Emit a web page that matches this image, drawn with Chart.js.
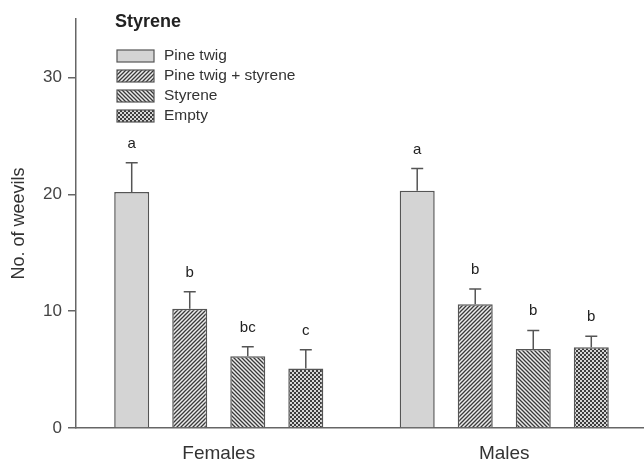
<!DOCTYPE html>
<html>
<head>
<meta charset="utf-8">
<script src="https://cdn.jsdelivr.net/npm/chart.js@4"></script>
<style>
  html, body { margin: 0; padding: 0; background: #fff; overflow: hidden; }
  #wrap { width: 647px; height: 461px; }
</style>
</head>
<body>
<div id="wrap"><canvas id="grafico"></canvas></div>
<script>
const categorias = ["Females", "Males"];
const series = ["Pine twig", "Pine twig + styrene", "Styrene", "Empty"];

const pineTwig = [20.2, 20.3];
const pineTwigStyrene = [10.2, 10.6];
const styrene = [6.15, 6.75];
const empty = [5.1, 6.9];

const errPineTwig = [2.5, 1.9];
const errPineTwigStyrene = [1.45, 1.3];
const errStyrene = [0.8, 1.6];
const errEmpty = [1.6, 0.95];

const letrasPineTwig = ["a", "a"];
const letrasPineTwigStyrene = ["b", "b"];
const letrasStyrene = ["bc", "b"];
const letrasEmpty = ["c", "b"];

const yTicks = [0, 10, 20, 30];

const FONT = "'Liberation Sans', Arial, sans-serif";

function rayado(dir) {
  const s = 4;
  const c = document.createElement("canvas");
  c.width = s; c.height = s;
  const g = c.getContext("2d");
  g.fillStyle = "#ececec";
  g.fillRect(0, 0, s, s);
  g.strokeStyle = "#3a3a3a";
  g.lineWidth = 1.3;
  g.beginPath();
  if (dir > 0) {
    g.moveTo(-1, s + 1); g.lineTo(s + 1, -1);
    g.moveTo(-1, 1); g.lineTo(1, -1);
    g.moveTo(s - 1, s + 1); g.lineTo(s + 1, s - 1);
  } else {
    g.moveTo(-1, -1); g.lineTo(s + 1, s + 1);
    g.moveTo(-1, s - 1); g.lineTo(1, s + 1);
    g.moveTo(s - 1, -1); g.lineTo(s + 1, 1);
  }
  g.stroke();
  return g.createPattern(c, "repeat");
}

function cuadros() {
  const c = document.createElement("canvas");
  c.width = 4; c.height = 4;
  const g = c.getContext("2d");
  g.fillStyle = "#3c3c3c";
  g.fillRect(0, 0, 4, 4);
  g.fillStyle = "#d6d6d6";
  g.fillRect(0, 0, 2, 2);
  g.fillRect(2, 2, 2, 2);
  return g.createPattern(c, "repeat");
}

const valores = [pineTwig, pineTwigStyrene, styrene, empty];
const errores = [errPineTwig, errPineTwigStyrene, errStyrene, errEmpty];
const letras = [letrasPineTwig, letrasPineTwigStyrene, letrasStyrene, letrasEmpty];
const rellenos = ["#d4d4d4", rayado(1), rayado(-1), cuadros()];

const extras = {
  id: "extras",
  afterDatasetsDraw(chart) {
    const ctx = chart.ctx;
    const y = chart.scales.y;
    ctx.save();
    chart.data.datasets.forEach((ds, i) => {
      const meta = chart.getDatasetMeta(i);
      meta.data.forEach((bar, j) => {
        const top = y.getPixelForValue(valores[i][j] + errores[i][j]);
        ctx.strokeStyle = "#555";
        ctx.lineWidth = 1.5;
        ctx.beginPath();
        ctx.moveTo(bar.x, bar.y);
        ctx.lineTo(bar.x, top);
        ctx.moveTo(bar.x - 6, top);
        ctx.lineTo(bar.x + 6, top);
        ctx.stroke();
        ctx.fillStyle = "#222";
        ctx.font = "15px " + FONT;
        ctx.textAlign = "center";
        ctx.textBaseline = "alphabetic";
        ctx.fillText(letras[i][j], bar.x, top - 15);
      });
    });
    ctx.restore();
  },
  afterDraw(chart) {
    const ctx = chart.ctx;
    ctx.save();
    ctx.fillStyle = "#222";
    ctx.font = "bold 18px " + FONT;
    ctx.textAlign = "left";
    ctx.textBaseline = "alphabetic";
    ctx.fillText("Styrene", 115, 27);
    ctx.font = "15.5px " + FONT;
    ctx.textBaseline = "middle";
    series.forEach((nombre, i) => {
      const yy = 56 + i * 20;
      ctx.fillStyle = rellenos[i];
      ctx.fillRect(117, yy - 6, 37, 12);
      ctx.strokeStyle = "#555";
      ctx.lineWidth = 1.2;
      ctx.strokeRect(117, yy - 6, 37, 12);
      ctx.fillStyle = "#333";
      ctx.fillText(nombre, 164, yy);
    });
    ctx.restore();
  }
};

const ctx = document.getElementById("grafico").getContext("2d");
new Chart(ctx, {
  type: "bar",
  data: {
    labels: categorias,
    datasets: series.map((nombre, i) => ({
      label: nombre,
      data: valores[i],
      backgroundColor: rellenos[i],
      borderColor: "#555",
      borderWidth: 1.5,
      borderSkipped: "bottom",
      categoryPercentage: 0.813,
      barPercentage: 0.603
    }))
  },
  options: {
    responsive: true,
    maintainAspectRatio: false,
    animation: false,
    layout: { padding: { top: 19, right: 0, left: 0, bottom: 0 } },
    plugins: {
      legend: { display: false },
      tooltip: { enabled: false }
    },
    scales: {
      x: {
        grid: { display: false, drawTicks: false },
        border: { display: true, color: "#666", width: 1.5 },
        ticks: { color: "#333", font: { family: FONT, size: 19 }, padding: 14 },
        afterFit(s) { s.height = 33; }
      },
      y: {
        min: 0,
        max: 35,
        afterBuildTicks(s) { s.ticks = yTicks.map(v => ({ value: v })); },
        grid: { drawOnChartArea: false, drawTicks: true, tickLength: 8, color: "#666", lineWidth: 1.5 },
        border: { display: true, color: "#666", width: 1.5 },
        ticks: { color: "#444", font: { family: FONT, size: 17 }, padding: 6 },
        title: { display: true, text: "No. of weevils", color: "#333", font: { family: FONT, size: 18 }, padding: { top: 8, bottom: 0 } },
        afterFit(s) { s.width = 76; }
      }
    }
  },
  plugins: [extras]
});
</script>
</body>
</html>
